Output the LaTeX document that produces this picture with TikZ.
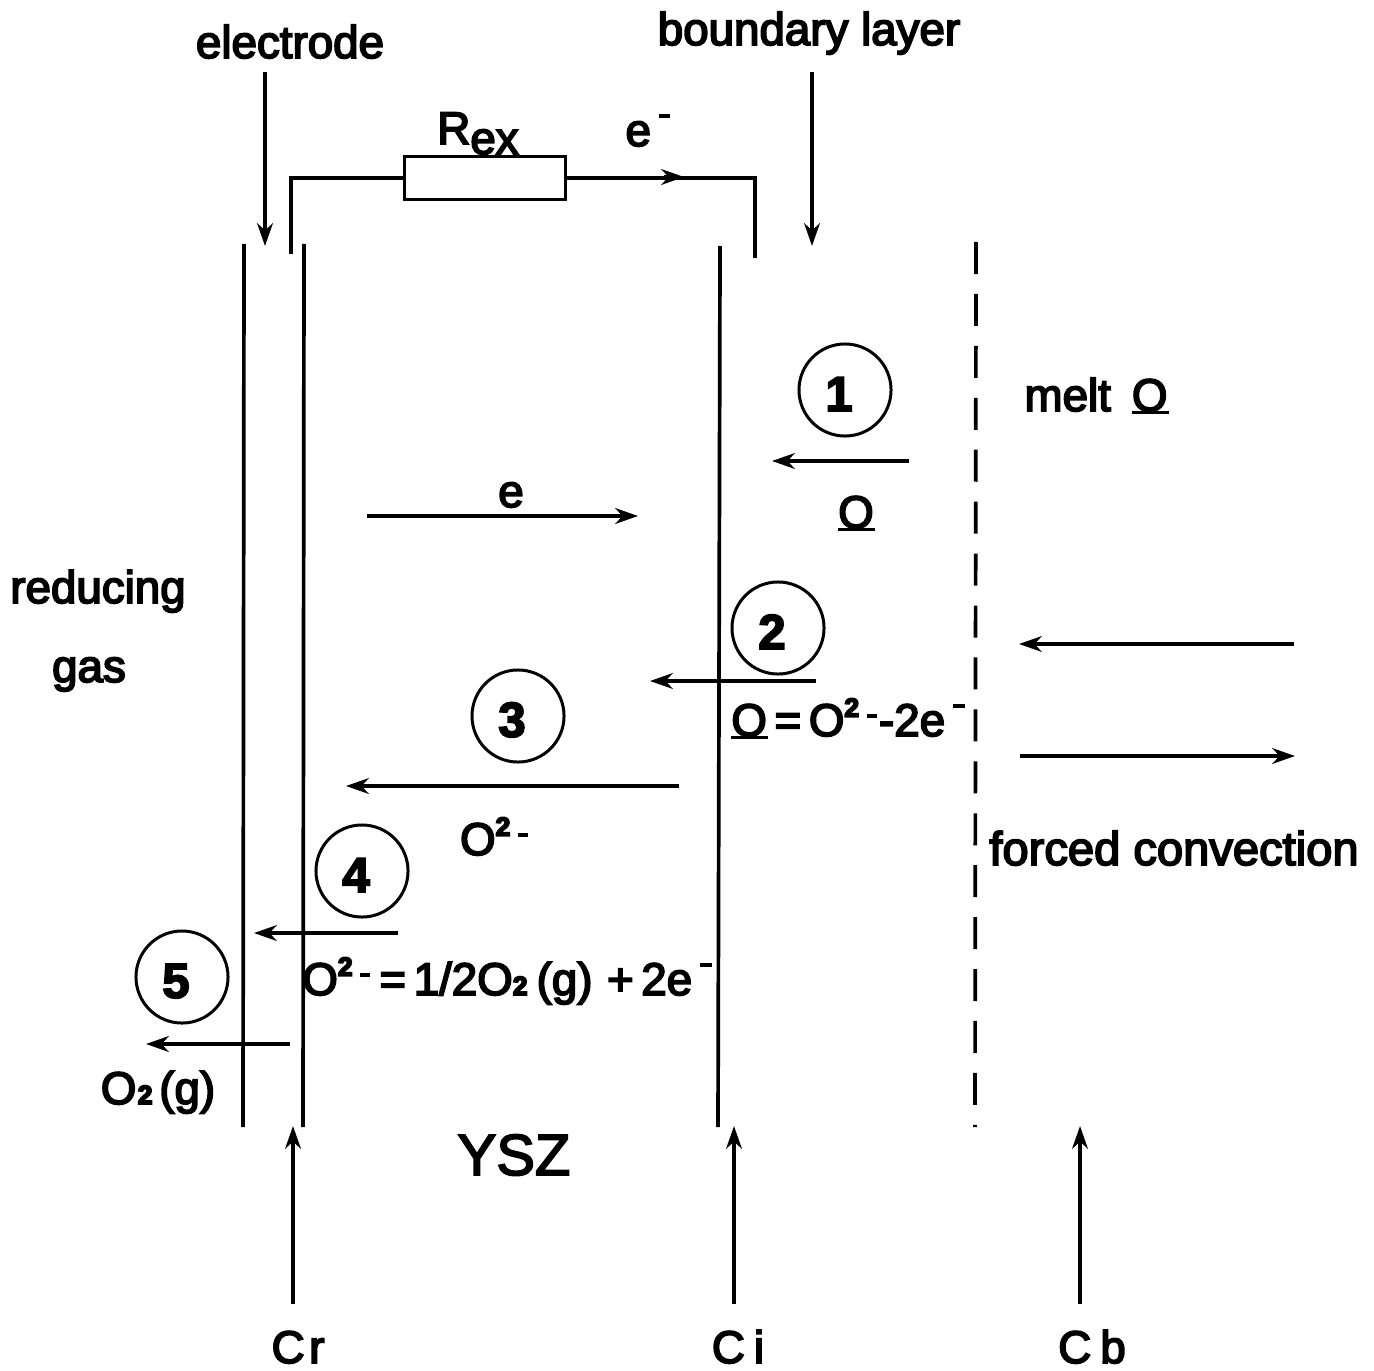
\documentclass[tikz,border=0pt]{standalone}
\usepackage{fontspec}
\setmainfont{Liberation Sans}
\usetikzlibrary{arrows.meta}
\newcommand{\heavyink}{\special{pdf:code 2 Tr 0.5 w}}
\newcommand{\suptwo}{\raisebox{0.42em}{\fontsize{7.5}{8}\selectfont\bfseries 2}}
\newcommand{\subtwo}{{\fontsize{7.5}{8}\selectfont\bfseries 2}}
\newcommand{\supminus}{\rule[0.62em]{0.26em}{0.07em}}
\newcommand{\midminus}{\rule[0.4em]{0.22em}{0.09em}}
\newcommand{\lineO}{\rlap{\rule[-0.07em]{0.8em}{0.07em}}O}
\tikzset{
    wall/.style={line width=1.05pt},
    wire/.style={line width=1.05pt},
    flow/.style={line width=1pt, -{Stealth[length=6.5pt, width=4.5pt]}},
    step circle/.style={draw, circle, line width=0.85pt, minimum size=0.92cm, inner sep=0pt, font=\fontsize{14}{16}\selectfont\bfseries\heavyink},
    tag/.style={inner sep=0pt, anchor=base, font=\fontsize{13}{15}\selectfont\heavyink},
}
\begin{document}
\begin{tikzpicture}[x=0.01cm, y=-0.01cm]

    % the frame
    \useasboundingbox (0, 0) rectangle (1374, 1370);

    % the walls
    \foreach \name/\xa/\ya/\xb/\yb in {gasL/244/244/243/1127, gasR/304/244/303/1127, bulkR/720/246/718/1127} {
        \coordinate (\name a) at (\xa, \ya);
        \coordinate (\name b) at (\xb, \yb);
        \draw[wall] (\name a) -- (\name b);
    };
    \coordinate (layera) at (976, 242);
    \coordinate (layerb) at (975, 1127);
    \draw[wall, dash pattern=on 0.32cm off 0.199cm] (layera) -- (layerb);

    % the circuit
    \node[draw, wire, minimum width=1.61cm, minimum height=0.43cm, inner sep=0pt] (rex) at (485, 178) {};
    \coordinate (wireL) at (291, 254);
    \coordinate (wireR) at (755, 258);
    \draw[wire] (wireL) |- (rex.west);
    \draw[wire] (rex.east) -| (wireR);
    \coordinate (tipa) at (664, 177);
    \coordinate (tipb) at (684, 177);
    \draw[flow] (tipa) -- (tipb);

    % the arrows
    \foreach \name/\xa/\ya/\xb/\yb in {
        electrode/265/72/265/246, boundary/812/72/812/246,
        one/909/461/772/461, e/367/516/638/516, two/816/681/650/681,
        three/679/786/346/786, four/398/933/254/933, five/290/1044/146/1044,
        back/1294/644/1019/644, forth/1020/756/1295/756,
        cr/293/1304/293/1126, ci/734/1304/734/1126, cb/1080/1304/1080/1126} {
        \coordinate (\name a) at (\xa, \ya);
        \coordinate (\name b) at (\xb, \yb);
        \draw[flow] (\name a) -- (\name b);
    };

    % the steps
    \foreach \name/\x/\y/\n in {s1/845/390/1, s2/778/628/2, s3/518/716/3, s4/362/871/4, s5/182/977/5} {
        \node[step circle] (\name) at (\x, \y) {\rule{0pt}{0.42cm}\n\kern0.12cm};
    };

    % the labels
    \node[tag] (electrode) at (290, 58) {electrode};
    \node[tag] (boundary) at (809, 45) {boundary layer};
    \node[tag] (r) at (478, 144) {R\raisebox{-0.22em}{ex}};
    \node[tag] (eminus) at (648, 146) {e\,\supminus};
    \node[tag] (melt) at (1096, 411) {melt\hspace{0.46em}\lineO};
    \node[tag] (oone) at (856, 528) {\lineO};
    \node[tag] (elabel) at (511, 507) {e};
    \node[tag] (reducing) at (98, 603) {reducing};
    \node[tag] (gas) at (89, 682) {gas};
    \node[tag] (eqtwo) at (848, 736) {\lineO\,=\,O\suptwo\,\midminus\kern0.05em-2e\,\supminus};
    \node[tag] (oion) at (494, 855) {O\suptwo\,\midminus};
    \node[tag] (forced) at (1174, 865) {\fontsize{13.4}{15}\selectfont forced convection};
    \node[tag] (eqfour) at (507, 995) {O\suptwo\,\midminus\kern0.2em=\,1/2O\subtwo\kern0.2em(g)\,\kern0.15em+\,2e\,\supminus};
    \node[tag] (ogas) at (158, 1104) {O\kern0.03em\subtwo\kern0.15em(g)};
    \node[tag, font=\fontsize{16.5}{19}\selectfont\heavyink] (ysz) at (514, 1175) {YSZ};
    \node[tag] (crl) at (298, 1363) {C\kern0.1em r};
    \node[tag] (cil) at (738, 1363) {C\kern0.2em i};
    \node[tag] (cbl) at (1092, 1363) {C\kern0.2em b};

\end{tikzpicture}
\end{document}
